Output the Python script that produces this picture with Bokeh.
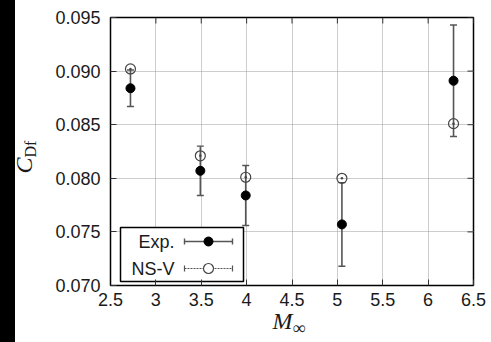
from bokeh.plotting import figure
from bokeh.models import (Range1d, FixedTicker, NumeralTickFormatter,
                          Whisker, TeeHead, ColumnDataSource, Label, Div)
from bokeh.layouts import row, column
from bokeh.embed import file_html
from bokeh.resources import INLINE

# ---- data ----
mach = [2.72, 3.49, 3.99, 5.05, 6.28]
exp_cdf = [0.0884, 0.0807, 0.0784, 0.0757, 0.0891]
exp_err = [0.0017, 0.0023, 0.0028, 0.0039, 0.0052]
nsv_cdf = [0.0902, 0.0821, 0.0801, 0.0800, 0.0851]
x_ticks = [2.5, 3, 3.5, 4, 4.5, 5, 5.5, 6, 6.5]
y_ticks = [0.070, 0.075, 0.080, 0.085, 0.090, 0.095]
legend_labels = ["Exp.", "NS-V"]

# ---- layout constants (page pixels) ----
PAGE_W, PAGE_H = 491, 342
STRIP = 15            # black strip at the left edge
YLAB_W = 35           # column for the y-axis title
FIG_X = STRIP + YLAB_W
FIG_W = PAGE_W - FIG_X
FIG_H = 314
XLAB_H = PAGE_H - FIG_H
FL, FR, FT, FB = 110, 473, 17, 285   # frame edges on the page
XMIN, XMAX, YMIN, YMAX = 2.5, 6.5, 0.070, 0.095
px_x = (FR - FL) / (XMAX - XMIN)
px_y = (FB - FT) / (YMAX - YMIN)


def dx(sx):
    """page x -> data x"""
    return XMIN + (sx - FL) / px_x


def dy(sy):
    """page y -> data y"""
    return YMAX - (sy - FT) / px_y


FONT = "Liberation Sans"
SERIF = "Liberation Serif"
TXT = "#1a1a1a"
EB = "#555555"
TICK = "#333333"

p = figure(width=FIG_W, height=FIG_H, output_backend="svg", toolbar_location=None,
           x_range=Range1d(XMIN, XMAX), y_range=Range1d(YMIN, YMAX),
           min_border_left=FL - FIG_X, min_border_right=PAGE_W - FR,
           min_border_top=FT, min_border_bottom=FIG_H - FB, margin=0)
p.background_fill_color = "white"
p.border_fill_color = "white"
p.outline_line_color = "black"
p.outline_line_width = 1.5

for ax in (p.xaxis[0], p.yaxis[0]):
    ax.major_tick_in = 6
    ax.major_tick_out = 0
    ax.minor_tick_line_color = None
    ax.major_tick_line_color = TICK
    ax.axis_line_color = "black"
    ax.major_label_text_font = FONT
    ax.major_label_text_font_size = "18px"
    ax.major_label_text_color = TXT

p.xaxis[0].ticker = FixedTicker(ticks=x_ticks)
p.xaxis[0].formatter = NumeralTickFormatter(format="0.[0]")
p.xaxis[0].major_label_standoff = 7
p.yaxis[0].ticker = FixedTicker(ticks=y_ticks)
p.yaxis[0].formatter = NumeralTickFormatter(format="0.000")
p.yaxis[0].major_label_standoff = 10

p.xgrid.ticker = FixedTicker(ticks=x_ticks)
p.ygrid.ticker = FixedTicker(ticks=y_ticks)
for g in (p.xgrid[0], p.ygrid[0]):
    g.grid_line_color = "#9a9a9a"
    g.grid_line_dash = "1 1"
    g.grid_line_width = 1

# inward ticks on the top and right frame edges
TL = 6
p.segment(x0=[XMAX] * len(y_ticks), x1=[XMAX - TL / px_x] * len(y_ticks),
          y0=y_ticks, y1=y_ticks, line_color=TICK, line_width=1)
p.segment(x0=x_ticks, x1=x_ticks, y0=[YMAX] * len(x_ticks),
          y1=[YMAX - TL / px_y] * len(x_ticks), line_color=TICK, line_width=1)

# ---- data glyphs ----
src = ColumnDataSource(dict(
    x=mach, exp=exp_cdf, nsv=nsv_cdf,
    upper=[v + e for v, e in zip(exp_cdf, exp_err)],
    lower=[v - e for v, e in zip(exp_cdf, exp_err)],
))
wh = Whisker(source=src, base="x", upper="upper", lower="lower",
             line_color=EB, line_width=1.6,
             upper_head=TeeHead(size=7, line_color=EB, line_width=1.4),
             lower_head=TeeHead(size=7, line_color=EB, line_width=1.4))
p.add_layout(wh)
p.scatter("x", "exp", source=src, marker="circle", size=9,
          fill_color="black", line_color="black")
p.scatter("x", "nsv", source=src, marker="circle_dot", size=10,
          fill_color="white", fill_alpha=0.0, line_color="#444444", line_width=1.2)

# ---- custom legend (label left, sample right) ----
p.quad(left=[dx(120)], right=[dx(243)], top=[dy(227)], bottom=[dy(281)],
       fill_color="white", line_color="black", line_width=1.5)
ys = [dy(241), dy(268)]
for lab, yy in zip(legend_labels, ys):
    p.add_layout(Label(x=dx(174), y=yy, text=lab, text_align="right",
                       text_baseline="middle", text_font=FONT,
                       text_font_size="18px", text_color=TXT))
# Exp sample
p.segment(x0=[dx(184)], x1=[dx(232)], y0=[ys[0]], y1=[ys[0]],
          line_color=EB, line_width=1.6)
p.segment(x0=[dx(184), dx(232)], x1=[dx(184), dx(232)],
          y0=[dy(238), dy(238)], y1=[dy(244), dy(244)], line_color=EB, line_width=1.4)
p.scatter(x=[dx(208)], y=[ys[0]], marker="circle", size=9,
          fill_color="black", line_color="black")
# NS-V sample
p.segment(x0=[dx(184)], x1=[dx(232)], y0=[ys[1]], y1=[ys[1]],
          line_color=EB, line_width=1.2, line_dash="2 1")
p.segment(x0=[dx(184), dx(232)], x1=[dx(184), dx(232)],
          y0=[dy(265), dy(265)], y1=[dy(271), dy(271)], line_color=EB, line_width=1.2)
p.scatter(x=[dx(208)], y=[ys[1]], marker="circle", size=10,
          fill_color="white", line_color="#444444", line_width=1.2)

# ---- axis titles as HTML (italic symbol with subscript) ----
ylab_html = (
    '<div style="position:relative;width:%dpx;height:%dpx;">'
    '<span style="position:absolute;left:%dpx;top:%dpx;white-space:nowrap;'
    'transform:translate(-50%%,-50%%) rotate(-90deg);line-height:1;'
    'font-family:\'%s\';color:%s;">'
    '<i style="font-size:24px;">C</i>'
    '<sub style="font-size:16px;vertical-align:-4px;">Df</sub></span></div>'
    % (YLAB_W, PAGE_H, 25 - STRIP, 157, SERIF, TXT)
)
xlab_html = (
    '<div style="position:relative;width:%dpx;height:%dpx;">'
    '<span style="position:absolute;left:%dpx;top:%dpx;white-space:nowrap;'
    'transform:translate(-50%%,-50%%);line-height:1;'
    'font-family:\'%s\';color:%s;">'
    '<i style="font-size:24px;">M</i>'
    '<sub style="font-size:18px;vertical-align:-5px;">\u221e</sub></span></div>'
    % (FIG_W, XLAB_H, 289 - FIG_X, 323 - FIG_H, SERIF, TXT)
)

strip = Div(width=STRIP, height=PAGE_H, margin=0,
            styles={"background-color": "black"})
ylab = Div(text=ylab_html, width=YLAB_W, height=PAGE_H, margin=0,
           styles={"overflow": "visible"})
xlab = Div(text=xlab_html, width=FIG_W, height=XLAB_H, margin=0,
           styles={"overflow": "visible"})
layout = row(strip, ylab, column(p, xlab, spacing=0, margin=0), spacing=0, margin=0)

open("out.html", "w").write(file_html(layout, INLINE))
